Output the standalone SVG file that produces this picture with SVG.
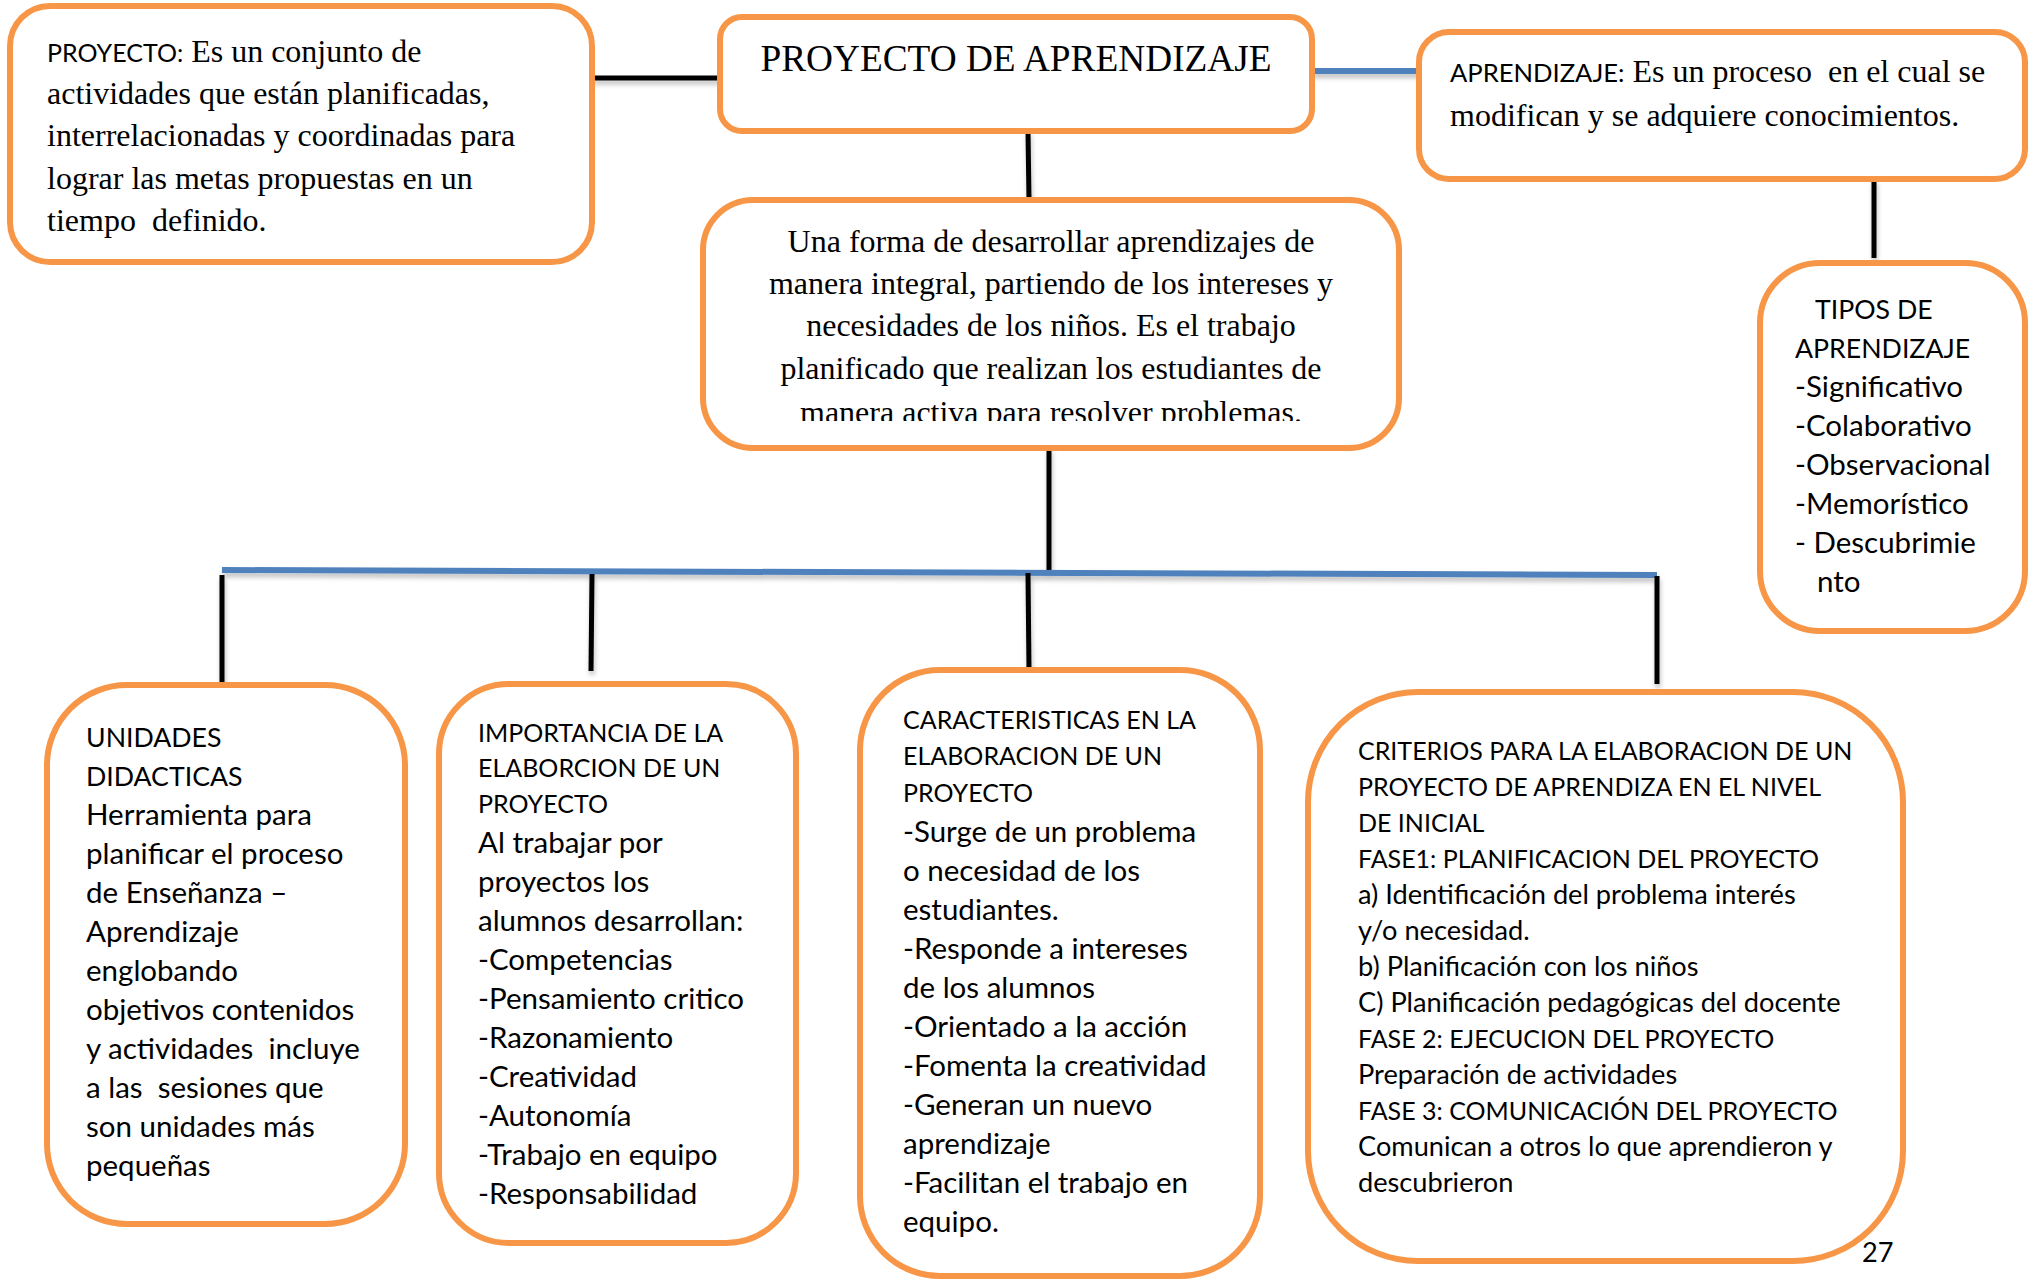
<svg xmlns="http://www.w3.org/2000/svg" width="2035" height="1280" viewBox="0 0 2035 1280">
<style>
.box{fill:#ffffff;stroke:#F79646;stroke-width:6}
.ser{font-family:"Liberation Serif","Times New Roman",serif;font-size:32px;fill:#000}
.san{font-family:Lato,"Open Sans",sans-serif;font-size:29.5px;fill:#000}
.up{font-family:Lato,"Open Sans",sans-serif;font-size:26.7px;fill:#000}
.sm{font-family:Lato,"Open Sans",sans-serif;font-size:25px;fill:#000}
.md{font-family:Lato,"Open Sans",sans-serif;font-size:27.2px;fill:#000}
.pre{font-family:Lato,"Open Sans",sans-serif;font-size:25.6px;fill:#000}
.ttl{font-family:"Liberation Serif","Times New Roman",serif;font-size:37.3px;fill:#000}
.blk{stroke:#000;stroke-width:5;fill:none}
.blu{stroke:#4F81BD;stroke-width:6;fill:none}
</style>
<defs>
<filter id="sh" x="-20%" y="-20%" width="140%" height="160%">
<feGaussianBlur in="SourceAlpha" stdDeviation="2.5"/>
<feOffset dx="1" dy="4" result="b"/>
<feComponentTransfer><feFuncA type="linear" slope="0.25"/></feComponentTransfer>
<feMerge><feMergeNode/><feMergeNode in="SourceGraphic"/></feMerge>
</filter>
<clipPath id="clipC"><rect x="703" y="200" width="696" height="221"/></clipPath>
</defs>
<rect width="2035" height="1280" fill="#ffffff"/>

<g id="connectors" filter="url(#sh)">
<line class="blk" x1="592" y1="78" x2="720" y2="78"/>
<line class="blu" x1="1312" y1="71" x2="1421" y2="71"/>
<line class="blk" x1="1028" y1="131" x2="1029" y2="200"/>
<line class="blk" x1="1049" y1="448" x2="1049" y2="571"/>
<line class="blk" x1="1874" y1="179" x2="1874" y2="258" stroke-width="6"/>
<line class="blu" x1="222" y1="570" x2="1657" y2="575"/>
<line class="blk" x1="222" y1="575" x2="222" y2="685" stroke-width="4"/>
<line class="blk" x1="592" y1="574" x2="591" y2="671" stroke-width="4"/>
<line class="blk" x1="1028" y1="573" x2="1029" y2="670" stroke-width="4"/>
<line class="blk" x1="1657" y1="576" x2="1657" y2="684" stroke-width="4"/>
</g>

<g id="node-proyecto">
<rect class="box" x="10" y="6" width="582" height="256" rx="40"/>
<text x="47" y="62"><tspan class="sm">PROYECTO:</tspan><tspan class="ser"> Es un conjunto de</tspan></text>
<text class="ser" x="47" y="104">actividades que están planificadas,</text>
<text class="ser" x="47" y="146">interrelacionadas y coordinadas para</text>
<text class="ser" x="47" y="189">lograr las metas propuestas en un</text>
<text class="ser" x="47" y="231" xml:space="preserve">tiempo  definido.</text>
</g>

<g id="node-titulo">
<rect class="box" x="720" y="17" width="592" height="114" rx="22"/>
<text class="ttl" x="1016" y="71" text-anchor="middle">PROYECTO DE APRENDIZAJE</text>
</g>

<g id="node-forma">
<rect class="box" x="703" y="200" width="696" height="248" rx="50"/>
<g clip-path="url(#clipC)">
<text class="ser" x="1051" y="252" text-anchor="middle">Una forma de desarrollar aprendizajes de</text>
<text class="ser" x="1051" y="294" text-anchor="middle">manera integral, partiendo de los intereses y</text>
<text class="ser" x="1051" y="336" text-anchor="middle">necesidades de los niños. Es el trabajo</text>
<text class="ser" x="1051" y="379" text-anchor="middle">planificado que realizan los estudiantes de</text>
<text class="ser" x="1051" y="423" text-anchor="middle">manera activa para resolver problemas.</text>
</g>
</g>

<g id="node-aprendizaje">
<rect class="box" x="1419" y="32" width="606" height="147" rx="30"/>
<text x="1450" y="82" xml:space="preserve"><tspan class="pre">APRENDIZAJE:</tspan><tspan class="ser"> Es un proceso  en el cual se</tspan></text>
<text class="ser" x="1450" y="126">modifican y se adquiere conocimientos.</text>
</g>

<g id="node-tipos">
<rect class="box" x="1760" y="263" width="265" height="368" rx="60"/>
<text class="up" x="1815" y="319">TIPOS DE</text>
<text class="up" x="1795" y="358">APRENDIZAJE</text>
<text class="san" x="1795" y="397">-Significativo</text>
<text class="san" x="1795" y="436">-Colaborativo</text>
<text class="san" x="1795" y="475">-Observacional</text>
<text class="san" x="1795" y="514">-Memorístico</text>
<text class="san" x="1795" y="553">- Descubrimie</text>
<text class="san" x="1817" y="592">nto</text>
</g>

<g id="node-unidades">
<rect class="box" x="47" y="685" width="358" height="539" rx="80"/>
<text class="up" x="86" y="747">UNIDADES</text>
<text class="up" x="86" y="786">DIDACTICAS</text>
<text class="san" x="86" y="825">Herramienta para</text>
<text class="san" x="86" y="864">planificar el proceso</text>
<text class="san" x="86" y="903">de Enseñanza –</text>
<text class="san" x="86" y="942">Aprendizaje</text>
<text class="san" x="86" y="981">englobando</text>
<text class="san" x="86" y="1020">objetivos contenidos</text>
<text class="san" x="86" y="1059" xml:space="preserve">y actividades  incluye</text>
<text class="san" x="86" y="1098" xml:space="preserve">a las  sesiones que</text>
<text class="san" x="86" y="1137">son unidades más</text>
<text class="san" x="86" y="1176">pequeñas</text>
</g>

<g id="node-importancia">
<rect class="box" x="439" y="684" width="357" height="559" rx="70"/>
<text class="sm" x="478" y="742">IMPORTANCIA DE LA</text>
<text class="sm" x="478" y="777">ELABORCION DE UN</text>
<text class="sm" x="478" y="813">PROYECTO</text>
<text class="san" x="478" y="853">Al trabajar por</text>
<text class="san" x="478" y="892">proyectos los</text>
<text class="san" x="478" y="931">alumnos desarrollan:</text>
<text class="san" x="478" y="970">-Competencias</text>
<text class="san" x="478" y="1009">-Pensamiento critico</text>
<text class="san" x="478" y="1048">-Razonamiento</text>
<text class="san" x="478" y="1087">-Creatividad</text>
<text class="san" x="478" y="1126">-Autonomía</text>
<text class="san" x="478" y="1165">-Trabajo en equipo</text>
<text class="san" x="478" y="1204">-Responsabilidad</text>
</g>

<g id="node-caracteristicas">
<rect class="box" x="860" y="670" width="400" height="606" rx="80"/>
<text class="sm" x="903" y="729">CARACTERISTICAS EN LA</text>
<text class="sm" x="903" y="765">ELABORACION DE UN</text>
<text class="sm" x="903" y="802">PROYECTO</text>
<text class="san" x="903" y="842">-Surge de un problema</text>
<text class="san" x="903" y="881">o necesidad de los</text>
<text class="san" x="903" y="920">estudiantes.</text>
<text class="san" x="903" y="959">-Responde a intereses</text>
<text class="san" x="903" y="998">de los alumnos</text>
<text class="san" x="903" y="1037">-Orientado a la acción</text>
<text class="san" x="903" y="1076">-Fomenta la creatividad</text>
<text class="san" x="903" y="1115">-Generan un nuevo</text>
<text class="san" x="903" y="1154">aprendizaje</text>
<text class="san" x="903" y="1193">-Facilitan el trabajo en</text>
<text class="san" x="903" y="1232">equipo.</text>
</g>

<g id="node-criterios">
<rect class="box" x="1308" y="692" width="595" height="569" rx="110"/>
<text class="sm" x="1358" y="760">CRITERIOS PARA LA ELABORACION DE UN</text>
<text class="sm" x="1358" y="796">PROYECTO DE APRENDIZA EN EL NIVEL</text>
<text class="sm" x="1358" y="832">DE INICIAL</text>
<text class="sm" x="1358" y="868">FASE1: PLANIFICACION DEL PROYECTO</text>
<text class="md" x="1358" y="904">a) Identificación del problema interés</text>
<text class="md" x="1358" y="940">y/o necesidad.</text>
<text class="md" x="1358" y="976">b) Planificación con los niños</text>
<text class="md" x="1358" y="1012">C) Planificación pedagógicas del docente</text>
<text class="sm" x="1358" y="1048">FASE 2: EJECUCION DEL PROYECTO</text>
<text class="md" x="1358" y="1084">Preparación de actividades</text>
<text class="sm" x="1358" y="1120">FASE 3: COMUNICACIÓN DEL PROYECTO</text>
<text class="md" x="1358" y="1156">Comunican a otros lo que aprendieron y</text>
<text class="md" x="1358" y="1192">descubrieron</text>
</g>

<text class="md" x="1862" y="1262">27</text>
</svg>
